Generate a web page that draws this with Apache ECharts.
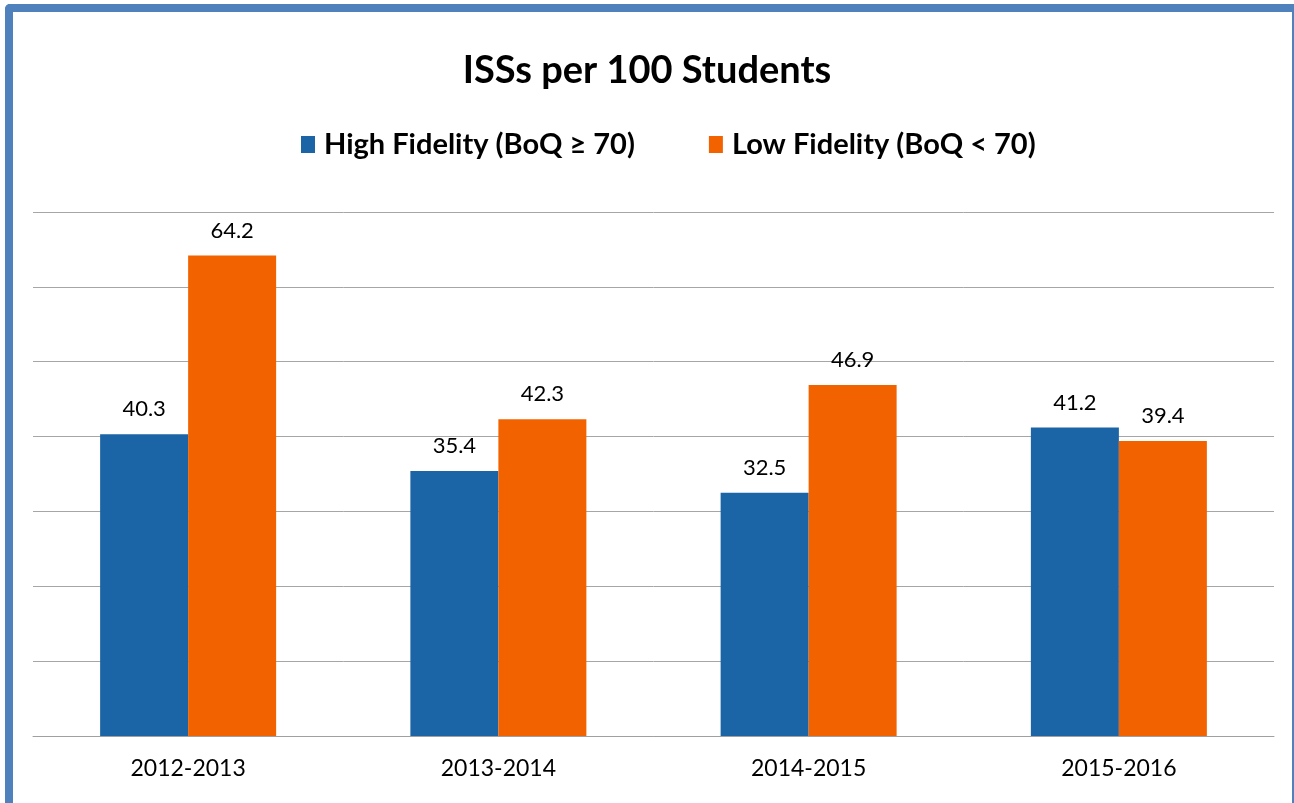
<!DOCTYPE html>
<html>
<head>
<meta charset="utf-8">
<script src="https://cdn.jsdelivr.net/npm/echarts@6/dist/echarts.min.js"></script>
<style>
  html, body { margin: 0; padding: 0; background: #fff; }
  #frame {
    position: absolute; left: 5px; top: 4px; width: 1279px; height: 799px;
    border-left: 8px solid #4F81BD; border-top: 8px solid #4F81BD;
    border-right: 2px solid #4F81BD; border-top-left-radius: 5px;
  }
  #chartDom { position: absolute; left: 0; top: 0; width: 1294px; height: 803px; }
</style>
</head>
<body>
<div id="frame"></div>
<div id="chartDom"></div>
<script>
const years = ['2012-2013', '2013-2014', '2014-2015', '2015-2016'];
const highFidelity = [40.3, 35.4, 32.5, 41.2];
const lowFidelity = [64.2, 42.3, 46.9, 39.4];
const seriesNames = ['High Fidelity (BoQ \u2265 70)', 'Low Fidelity (BoQ < 70)'];

const font = 'Lato, "Open Sans", sans-serif';

var myChart = echarts.init(document.getElementById('chartDom'));
const option = {
  animation: false,
  title: {
    text: 'ISSs per 100 Students',
    left: 'center',
    top: 47,
    textStyle: { fontFamily: font, fontSize: 38, fontWeight: 'bold', color: '#000' }
  },
  legend: {
    left: 296,
    top: 125,
    itemWidth: 14,
    itemHeight: 17,
    itemGap: 74,
    icon: 'rect',
    textStyle: { fontFamily: font, fontSize: 29, fontWeight: 'bold', color: '#000', padding: [0, 0, 0, 4] },
    data: seriesNames
  },
  grid: { left: 33, right: 20, top: 212, bottom: 67 },
  xAxis: {
    type: 'category',
    data: years,
    axisLine: { lineStyle: { color: '#A0A0A0' } },
    axisTick: { length: 7, lineStyle: { color: '#A0A0A0' } },
    axisLabel: { fontFamily: font, fontSize: 23, color: '#000', margin: 21 }
  },
  yAxis: {
    type: 'value',
    min: 0,
    max: 70,
    interval: 10,
    axisLabel: { show: false },
    axisLine: { show: false },
    axisTick: { show: false },
    splitLine: { lineStyle: { color: '#A6A6A6' } }
  },
  series: [
    {
      name: seriesNames[0],
      type: 'bar',
      data: highFidelity,
      barWidth: 88,
      barGap: '0%',
      itemStyle: { color: '#1B64A6' },
      label: { show: true, position: 'top', distance: 14, fontFamily: font, fontSize: 22, color: '#000' }
    },
    {
      name: seriesNames[1],
      type: 'bar',
      data: lowFidelity,
      barWidth: 88,
      barGap: '0%',
      itemStyle: { color: '#F26300' },
      label: { show: true, position: 'top', distance: 14, fontFamily: font, fontSize: 22, color: '#000' }
    }
  ]
};
myChart.setOption(option);
</script>
</body>
</html>
